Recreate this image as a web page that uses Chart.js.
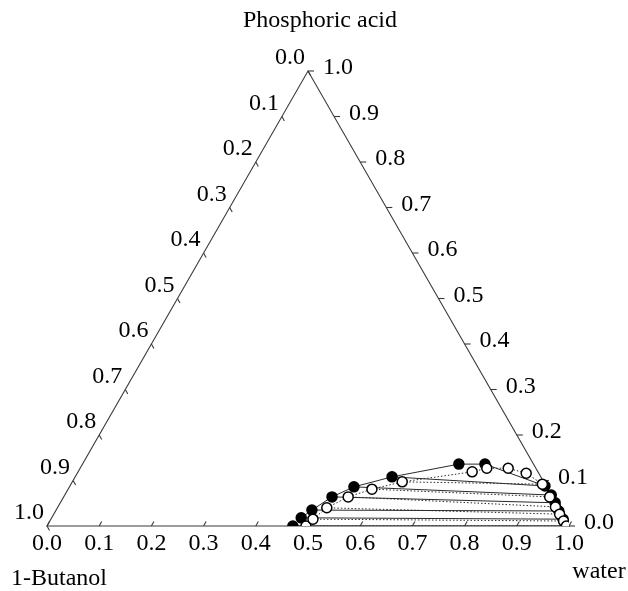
<!DOCTYPE html>
<html>
<head>
<meta charset="utf-8">
<script src="https://cdn.jsdelivr.net/npm/chart.js@4.4.0/dist/chart.umd.min.js"></script>
<style>
  html, body { margin: 0; padding: 0; background: #ffffff; }
</style>
</head>
<body>
<canvas id="ternary" width="628" height="591"></canvas>
<script>
// === Ternary data (mass fractions: water, phosphoric acid; 1-butanol = rest) ===
// filled circles, solid tie lines
const orgWaterA = [0.471, 0.478, 0.490, 0.514, 0.545, 0.607];
const orgAcidA  = [0.000, 0.018, 0.035, 0.064, 0.086, 0.108];
const aqWaterA  = [0.994, 0.981, 0.964, 0.948, 0.932, 0.910];
const aqAcidA   = [0.000, 0.015, 0.033, 0.051, 0.068, 0.088];
const topWaterA = [0.721, 0.771];
const topAcidA  = [0.136, 0.136];

// open circles, dotted tie lines
const orgWaterB = [0.496, 0.502, 0.516, 0.545, 0.582, 0.632];
const orgAcidB  = [0.000, 0.015, 0.040, 0.064, 0.081, 0.097];
const aqWaterB  = [0.995, 0.984, 0.969, 0.953, 0.931, 0.903];
const aqAcidB   = [0.000, 0.011, 0.026, 0.042, 0.064, 0.092];
const topWaterB = [0.755, 0.779, 0.820, 0.860];
const topAcidB  = [0.119, 0.127, 0.127, 0.116];

const tickValues = [0, 0.1, 0.2, 0.3, 0.4, 0.5, 0.6, 0.7, 0.8, 0.9, 1.0];
const tickLabels = ['0.0', '0.1', '0.2', '0.3', '0.4', '0.5', '0.6', '0.7', '0.8', '0.9', '1.0'];

// ternary -> cartesian (x along base, y = acid fraction)
function toXY(w, a) {
  return { x: w + a / 2, y: a };
}

function curvePoints(orgW, orgA, topW, topA, aqW, aqA) {
  const pts = [];
  orgW.forEach((w, i) => pts.push(toXY(w, orgA[i])));
  topW.forEach((w, i) => pts.push(toXY(w, topA[i])));
  for (let i = aqW.length - 1; i >= 0; i--) pts.push(toXY(aqW[i], aqA[i]));
  return pts;
}

function tieLines(orgW, orgA, aqW, aqA, dashed) {
  return orgW.map((w, i) => ({
    data: [toXY(w, orgA[i]), toXY(aqW[i], aqA[i])],
    showLine: true,
    borderColor: '#2a2a2a',
    borderWidth: 1,
    borderDash: dashed ? [1.5, 2] : [],
    pointRadius: 0,
    order: 3
  }));
}

const LINE = '#3a3a3a';
const FONT = '24px "Liberation Serif", "DejaVu Serif", serif';

// === Triangle frame, ticks and labels ===
const ternaryFrame = {
  id: 'ternaryFrame',
  beforeDatasetsDraw(chart) {
    const { ctx, scales: { x, y } } = chart;
    const px = (w, a) => x.getPixelForValue(w + a / 2);
    const py = (a) => y.getPixelForValue(a);

    ctx.save();
    ctx.strokeStyle = LINE;
    ctx.lineWidth = 1.1;
    ctx.beginPath();
    ctx.moveTo(px(0, 0), py(0));
    ctx.lineTo(px(1, 0), py(0));
    ctx.lineTo(px(0, 1), py(1));
    ctx.closePath();
    ctx.stroke();

    ctx.fillStyle = '#000000';
    ctx.font = FONT;
    ctx.textBaseline = 'middle';

    tickValues.forEach((v, i) => {
      // bottom: water
      let bx = px(v, 0), by = py(0);
      ctx.beginPath();
      ctx.moveTo(bx, by);
      ctx.lineTo(bx + 2.5, by - 4.5);
      ctx.stroke();
      ctx.textAlign = 'center';
      ctx.fillText(tickLabels[i], bx, by + 18);

      // left: 1-butanol (0 at top)
      const aL = 1 - v;
      let lx = px(0, aL), ly = py(aL);
      ctx.beginPath();
      ctx.moveTo(lx, ly);
      ctx.lineTo(lx + 2.5, ly + 4.5);
      ctx.stroke();
      ctx.textAlign = 'right';
      ctx.fillText(tickLabels[i], lx - 3, ly - 13);

      // right: phosphoric acid
      let rx = px(1 - v, v), ry = py(v);
      ctx.beginPath();
      ctx.moveTo(rx, ry);
      ctx.lineTo(rx + 6, ry);
      ctx.stroke();
      ctx.textAlign = 'left';
      ctx.fillText(tickLabels[i], rx + 15, ry - 3);
    });

    ctx.textAlign = 'center';
    ctx.fillText('Phosphoric acid', 320, 21);
    ctx.fillText('1-Butanol', 59, 579);
    ctx.fillText('water', 599, 572);
    ctx.restore();
  }
};

new Chart(document.getElementById('ternary'), {
  type: 'scatter',
  data: {
    datasets: [
      {
        data: curvePoints(orgWaterB, orgAcidB, topWaterB, topAcidB, aqWaterB, aqAcidB),
        showLine: true,
        borderColor: '#2a2a2a',
        borderWidth: 1,
        borderDash: [1.5, 2],
        pointRadius: 5,
        pointBackgroundColor: '#ffffff',
        pointBorderColor: '#000000',
        pointBorderWidth: 1.5,
        order: 0
      },
      {
        data: curvePoints(orgWaterA, orgAcidA, topWaterA, topAcidA, aqWaterA, aqAcidA),
        showLine: true,
        borderColor: '#2a2a2a',
        borderWidth: 1,
        pointRadius: 5,
        pointBackgroundColor: '#000000',
        pointBorderColor: '#000000',
        pointBorderWidth: 1.5,
        order: 1
      },
      ...tieLines(orgWaterA, orgAcidA, aqWaterA, aqAcidA, false),
      ...tieLines(orgWaterB, orgAcidB, aqWaterB, aqAcidB, true)
    ]
  },
  options: {
    responsive: false,
    animation: false,
    layout: { padding: { left: 47, right: 59, top: 71, bottom: 65 } },
    plugins: { legend: { display: false }, tooltip: { enabled: false } },
    scales: {
      x: { type: 'linear', min: 0, max: 1, display: false },
      y: { type: 'linear', min: 0, max: 1, display: false }
    }
  },
  plugins: [ternaryFrame]
});
</script>
</body>
</html>
